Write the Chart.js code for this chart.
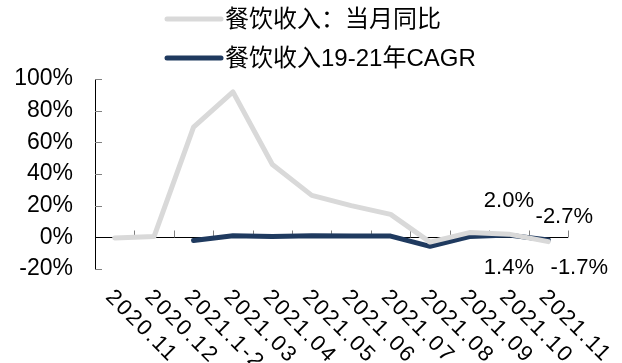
<!DOCTYPE html>
<html>
<head>
<meta charset="utf-8">
<script src="https://cdn.jsdelivr.net/npm/chart.js@4"></script>
<style>
  body { margin: 0; background: #fff; }
  #wrap { width: 622px; height: 363px; position: relative; }
</style>
</head>
<body>
<div id="wrap"><canvas id="chart"></canvas></div>
<script>
// categories + series
var months = ['2020.11', '2020.12', '2021.1-2', '2021.03', '2021.04', '2021.05',
              '2021.06', '2021.07', '2021.08', '2021.09', '2021.10', '2021.11'];
var yoy = [-0.4, 0.6, 69.6, 91.9, 46.0, 26.5, 20.0, 14.5, -3.0, 3.0, 2.0, -2.7];
var cagr = [null, null, -2.0, 1.0, 0.5, 1.0, 0.9, 0.8, -5.7, 0.5, 1.4, -1.7];
var yTicks = [-20, 0, 20, 40, 60, 80, 100];
var seriesNames = ['餐饮收入：当月同比', '餐饮收入19-21年CAGR'];
// data labels shown on the last two months
var yoyLabels = [null, null, null, null, null, null, null, null, null, null, '2.0%', '-2.7%'];
var cagrLabels = [null, null, null, null, null, null, null, null, null, null, '1.4%', '-1.7%'];

var FONT = '"Liberation Sans", Arial, "Noto Sans CJK SC", sans-serif';
var GRAY = '#d9d9d9';
var NAVY = '#1f3a5f';

// label offsets (dx, dy) from the point, per dataset
var labelOffsets = [
  { 10: [0, -33], 11: [16, -25] },
  { 10: [0, 33], 11: [31, 28] }
];

var axesPlugin = {
  id: 'axes',
  beforeDatasetsDraw(chart) {
    const ctx = chart.ctx;
    const a = chart.chartArea;
    const xs = chart.scales.x, ys = chart.scales.y;
    ctx.save();
    // y axis line
    ctx.strokeStyle = '#000';
    ctx.lineWidth = 1;
    ctx.beginPath();
    ctx.moveTo(a.left + 0.5, a.top);
    ctx.lineTo(a.left + 0.5, a.bottom);
    ctx.stroke();
    // y tick marks (inward)
    ctx.strokeStyle = '#808080';
    yTicks.forEach(v => {
      const y = Math.round(ys.getPixelForValue(v)) + 0.5;
      ctx.beginPath();
      ctx.moveTo(a.left, y);
      ctx.lineTo(a.left + 7, y);
      ctx.stroke();
    });
    // x axis at zero
    const y0 = Math.round(ys.getPixelForValue(0)) + 0.5;
    ctx.strokeStyle = '#000';
    ctx.beginPath();
    ctx.moveTo(a.left, y0);
    ctx.lineTo(a.right, y0);
    ctx.stroke();
    // x tick marks at category boundaries (upward)
    ctx.strokeStyle = '#808080';
    const half = (xs.getPixelForValue(1) - xs.getPixelForValue(0)) / 2;
    for (let i = 0; i < months.length; i++) {
      const x = Math.round(xs.getPixelForValue(i) + half) + 0.5;
      ctx.beginPath();
      ctx.moveTo(x, y0);
      ctx.lineTo(x, y0 - 7);
      ctx.stroke();
    }
    ctx.restore();
  },
  afterDraw(chart) {
    const ctx = chart.ctx;
    const xs = chart.scales.x, ys = chart.scales.y;
    ctx.save();
    ctx.fillStyle = '#000';

    // rotated month labels
    ctx.font = '22px ' + FONT;
    ctx.textAlign = 'left';
    ctx.textBaseline = 'top';
    ctx.letterSpacing = '2px';
    months.forEach((m, i) => {
      const x = xs.getPixelForValue(i);
      ctx.save();
      ctx.translate(x + 2, 286);
      ctx.rotate(Math.PI / 4);
      ctx.fillText(m, 0, 0);
      ctx.restore();
    });
    ctx.letterSpacing = '0px';

    // data labels
    ctx.font = '22px ' + FONT;
    ctx.textAlign = 'center';
    ctx.textBaseline = 'middle';
    [yoyLabels, cagrLabels].forEach((labels, d) => {
      const vals = chart.data.datasets[d].data;
      labels.forEach((t, i) => {
        if (!t) return;
        const off = labelOffsets[d][i] || [0, 0];
        ctx.fillText(t, xs.getPixelForValue(i) + off[0], ys.getPixelForValue(vals[i]) + off[1]);
      });
    });

    // legend, two rows
    const rows = [19, 58];
    ctx.font = '24px ' + FONT;
    ctx.textAlign = 'left';
    chart.data.datasets.forEach((ds, i) => {
      const y = rows[i];
      ctx.strokeStyle = ds.borderColor;
      ctx.lineWidth = 5;
      ctx.lineCap = 'round';
      ctx.beginPath();
      ctx.moveTo(167, y);
      ctx.lineTo(221, y);
      ctx.stroke();
      ctx.fillStyle = '#000';
      ctx.fillText(ds.label, 225, y + 1);
    });
    ctx.restore();
  }
};

new Chart(document.getElementById('chart'), {
  type: 'line',
  data: {
    labels: months,
    datasets: [
      {
        label: seriesNames[0],
        data: yoy,
        borderColor: GRAY,
        borderWidth: 5,
        pointRadius: 0,
        tension: 0,
        borderJoinStyle: 'round',
        borderCapStyle: 'round'
      },
      {
        label: seriesNames[1],
        data: cagr,
        borderColor: NAVY,
        borderWidth: 5,
        pointRadius: 0,
        tension: 0,
        borderJoinStyle: 'round',
        borderCapStyle: 'round'
      }
    ]
  },
  options: {
    responsive: true,
    maintainAspectRatio: false,
    animation: false,
    layout: { padding: { top: 79, right: 54, left: 0, bottom: 0 } },
    plugins: {
      legend: { display: false },
      tooltip: { enabled: false }
    },
    scales: {
      x: {
        offset: true,
        grid: { display: false },
        border: { display: false },
        ticks: { display: false },
        afterFit: s => { s.height = 94; }
      },
      y: {
        min: -20,
        max: 100,
        grid: { display: false, drawTicks: false },
        border: { display: false },
        afterBuildTicks: s => { s.ticks = yTicks.map(v => ({ value: v })); },
        afterFit: s => { s.width = 95; },
        ticks: {
          padding: 22,
          color: '#000',
          font: { size: 23, family: FONT },
          callback: v => v + '%'
        }
      }
    }
  },
  plugins: [axesPlugin]
});
</script>
</body>
</html>
